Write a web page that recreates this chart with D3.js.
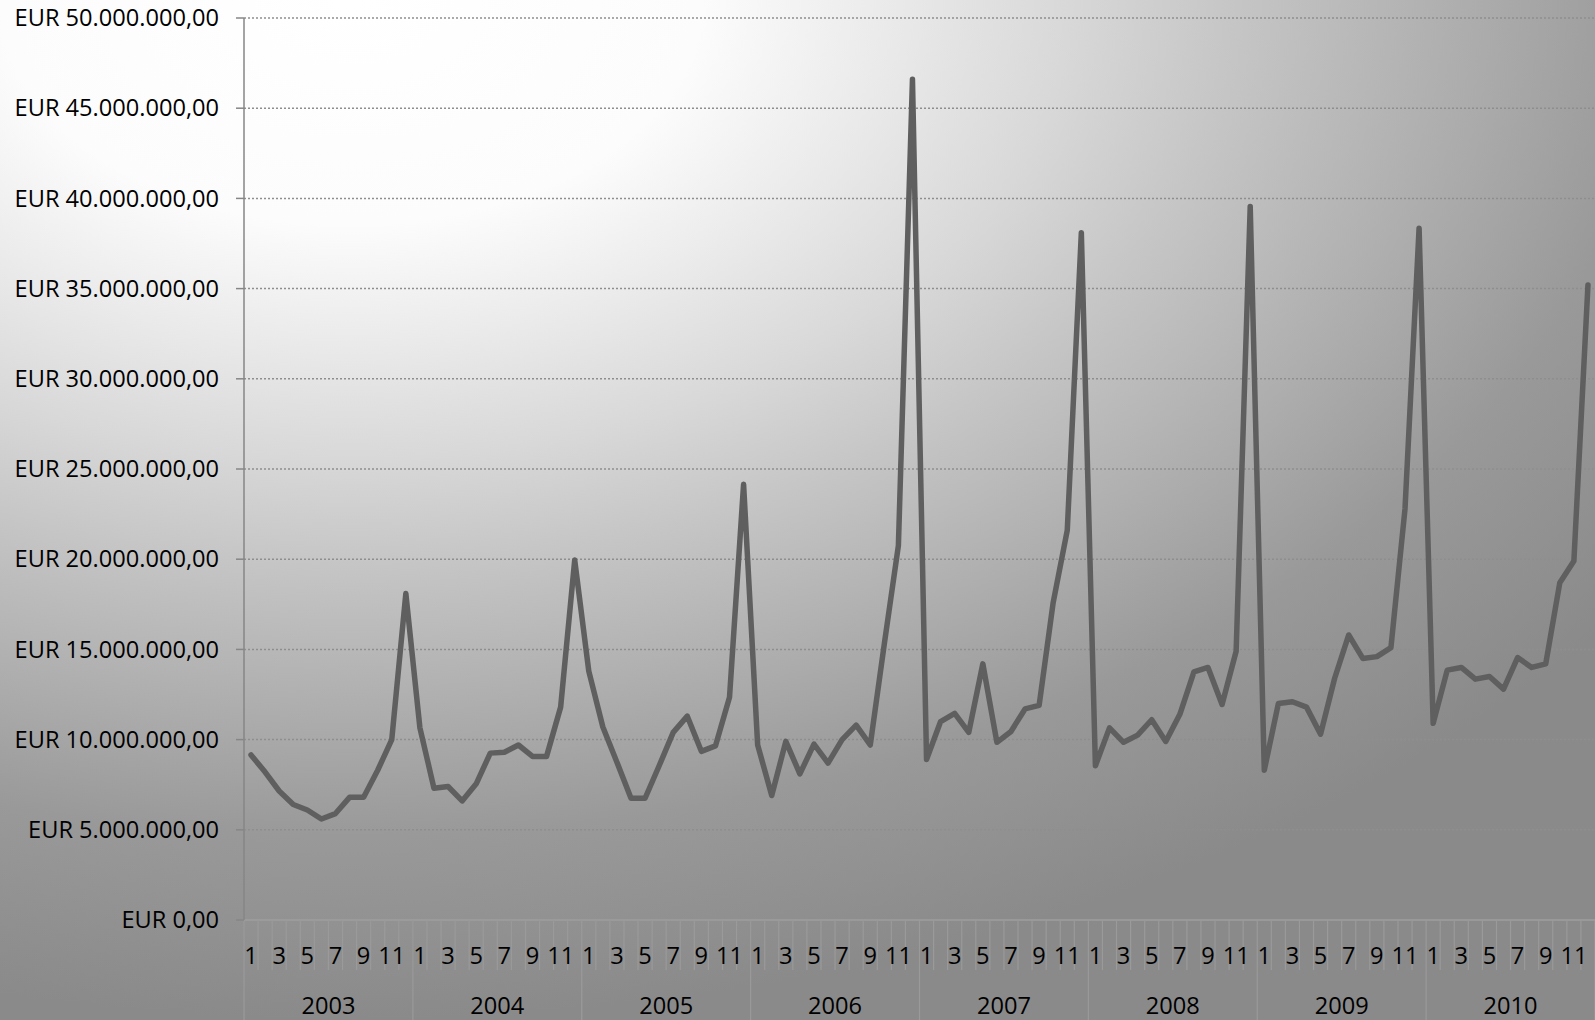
<!DOCTYPE html>
<html>
<head>
<meta charset="utf-8">
<script src="https://cdn.jsdelivr.net/npm/d3@7"></script>
<style>
    html, body { margin: 0; padding: 0; overflow: hidden; }
    text { font-family: "Open Sans", sans-serif; fill: #000; }
</style>
</head>
<body>
<div id="chart"></div>
<script>
// Umsatz je Monat in Mio. EUR
var years = ["2003", "2004", "2005", "2006", "2007", "2008", "2009", "2010"];
var monthLabels = ["1", "", "3", "", "5", "", "7", "", "9", "", "11", ""];
var s2003 = [9.15, 8.2, 7.15, 6.4, 6.1, 5.6, 5.9, 6.8, 6.8, 8.3, 10.0, 18.1];
var s2004 = [10.65, 7.3, 7.4, 6.6, 7.55, 9.25, 9.3, 9.7, 9.07, 9.07, 11.8, 19.95];
var s2005 = [13.8, 10.7, 8.75, 6.75, 6.75, 8.55, 10.4, 11.3, 9.35, 9.65, 12.35, 24.15];
var s2006 = [9.7, 6.9, 9.9, 8.1, 9.75, 8.7, 10.0, 10.8, 9.7, 15.3, 20.75, 46.6];
var s2007 = [8.9, 11.0, 11.45, 10.4, 14.2, 9.85, 10.45, 11.7, 11.9, 17.6, 21.6, 38.1];
var s2008 = [8.55, 10.65, 9.85, 10.25, 11.1, 9.9, 11.4, 13.75, 14.0, 11.95, 14.9, 39.55];
var s2009 = [8.3, 12.0, 12.1, 11.8, 10.3, 13.4, 15.8, 14.5, 14.6, 15.1, 22.8, 38.35];
var s2010 = [10.9, 13.85, 14.0, 13.35, 13.5, 12.8, 14.55, 14.0, 14.2, 18.7, 19.9, 35.2];
var yTicks = [0, 5, 10, 15, 20, 25, 30, 35, 40, 45, 50];

(function () {
    "use strict";

    var width = 1595, height = 1020;
    var mLeft = 244, mRight = 1595, mTop = 18, mBottom = 920;
    var fontSize = "23.6px";

    var values = [].concat(s2003, s2004, s2005, s2006, s2007, s2008, s2009, s2010);

    var svg = d3.select("#chart").append("svg")
        .attr("width", width)
        .attr("height", height);

    // Hintergrund mit radialem Verlauf
    var grad = svg.append("defs").append("radialGradient")
        .attr("id", "bg")
        .attr("cx", 0.22).attr("cy", 0).attr("fx", 0.22).attr("fy", 0).attr("r", 1);
    [[0, "#ffffff"], [0.22, "#fcfcfc"], [0.35, "#e8e8e8"], [0.45, "#d8d8d8"],
     [0.55, "#c6c6c6"], [0.7, "#adadad"], [0.82, "#999999"], [1, "#8a8a8a"]]
        .forEach(function (s) {
            grad.append("stop").attr("offset", s[0]).attr("stop-color", s[1]);
        });
    svg.append("rect").attr("width", width).attr("height", height).attr("fill", "url(#bg)");

    var x = d3.scaleBand()
        .domain(d3.range(values.length))
        .range([mLeft, mRight])
        .padding(0);
    var y = d3.scaleLinear().domain([0, 50]).range([mBottom, mTop]);

    var locale = d3.formatLocale({decimal: ",", thousands: ".", grouping: [3], currency: ["EUR ", ""]});
    var fmt = locale.format("$,.2f");

    // Gitterlinien
    svg.append("g").selectAll("line")
        .data(yTicks.filter(function (d) { return d > 0; }))
        .enter().append("line")
        .attr("x1", mLeft).attr("x2", mRight)
        .attr("y1", function (d) { return y(d); })
        .attr("y2", function (d) { return y(d); })
        .attr("stroke", "#8e8e8e")
        .attr("stroke-width", 1.5)
        .attr("stroke-dasharray", "2,2");

    // x-Achse: Monatsstriche und Jahrestrenner
    var xa = svg.append("g");
    xa.append("line")
        .attr("x1", mLeft).attr("x2", mRight).attr("y1", mBottom).attr("y2", mBottom)
        .attr("stroke", "#9e9e9e").attr("stroke-width", 1.5);
    xa.selectAll(".mtick")
        .data(d3.range(values.length + 1))
        .enter().append("line")
        .attr("x1", function (i) { return i < values.length ? x(i) : mRight; })
        .attr("x2", function (i) { return i < values.length ? x(i) : mRight; })
        .attr("y1", mBottom)
        .attr("y2", function (i) { return i % 12 === 0 ? height : mBottom + 50; })
        .attr("stroke", "#9a9a9a")
        .attr("stroke-width", 1.2);

    xa.selectAll(".mlabel")
        .data(values)
        .enter().append("text")
        .attr("x", function (d, i) { return x(i) + x.bandwidth() / 2; })
        .attr("y", 964)
        .attr("text-anchor", "middle")
        .style("font-size", fontSize)
        .text(function (d, i) { return monthLabels[i % 12]; });

    xa.selectAll(".ylabel")
        .data(years)
        .enter().append("text")
        .attr("x", function (d, i) { return x(i * 12) + x.bandwidth() * 6; })
        .attr("y", 1014)
        .attr("text-anchor", "middle")
        .style("font-size", fontSize)
        .text(function (d) { return d; });

    // y-Achse
    var ya = svg.append("g");
    ya.append("line")
        .attr("x1", mLeft).attr("x2", mLeft).attr("y1", mTop).attr("y2", mBottom)
        .attr("stroke", "#868686").attr("stroke-width", 1.5);
    ya.selectAll(".ytick")
        .data(yTicks)
        .enter().append("line")
        .attr("x1", mLeft - 8).attr("x2", mLeft)
        .attr("y1", function (d) { return y(d); })
        .attr("y2", function (d) { return y(d); })
        .attr("stroke", "#868686").attr("stroke-width", 1.5);
    ya.selectAll(".ylab")
        .data(yTicks)
        .enter().append("text")
        .attr("x", 219)
        .attr("y", function (d) { return y(d); })
        .attr("dy", "0.35em")
        .attr("text-anchor", "end")
        .style("font-size", fontSize)
        .text(function (d) { return fmt(d * 1e6); });

    // Umsatzlinie
    var line = d3.line()
        .x(function (d, i) { return x(i) + x.bandwidth() / 2; })
        .y(function (d) { return y(d); });

    svg.append("path")
        .datum(values)
        .attr("d", line)
        .attr("fill", "none")
        .attr("stroke", "#5f5f5f")
        .attr("stroke-width", 5.5)
        .attr("stroke-linejoin", "round")
        .attr("stroke-linecap", "round");
})();
</script>
</body>
</html>
